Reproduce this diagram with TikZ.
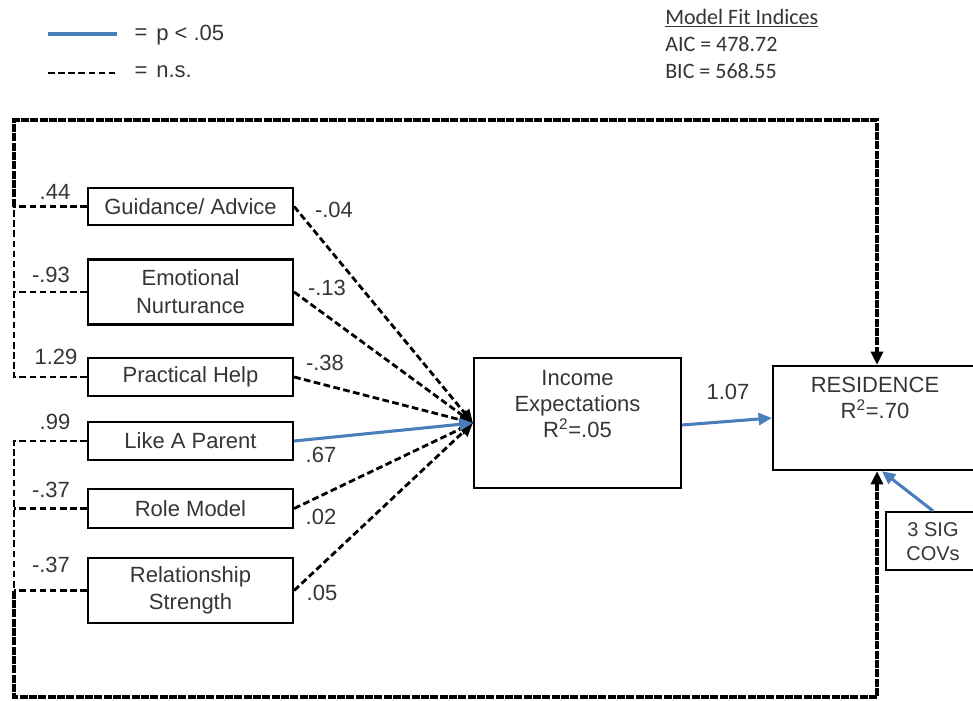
\documentclass[tikz,border=0pt]{standalone}
\usepackage{fontspec}
\setmainfont{Liberation Sans}
\newfontfamily\fitfont{Carlito}
\usetikzlibrary{arrows.meta}
\definecolor{sigblue}{HTML}{4A7EBB}
\definecolor{ink}{HTML}{353535}
\begin{document}
\begin{tikzpicture}[x=0.75pt,y=-0.75pt,
  every node/.style={text=ink, font=\fontsize{16.5}{20}\selectfont, inner sep=0pt},
  box/.style={draw=black, line width=1.7pt, minimum width=153.75pt, align=center},
  nsline/.style={draw=black, line width=2.1pt, dash pattern=on 5pt off 2.6pt},
  frame/.style={draw=black, line width=3pt, dash pattern=on 6pt off 1pt},
  sigline/.style={draw=sigblue, line width=2.3pt},
  tip/.style={-{Triangle[length=10pt,width=9pt]}}
]
\clip (0,0) rectangle (973,700);
\useasboundingbox (0,0) rectangle (973,700);

% legend
\coordinate (lg1a) at (48,34);  \coordinate (lg1b) at (117,34);
\coordinate (lg2a) at (48,73);  \coordinate (lg2b) at (117,73);
\draw[sigline, line width=2.6pt] (lg1a) -- (lg1b);
\draw[nsline] (lg2a) -- (lg2b);
\node (eq1) at (141,34) {=};
\node[anchor=west] (sigtxt) at (156,35) {p < .05};
\node (eq2) at (141,72) {=};
\node[anchor=west] (nstxt) at (156,72) {n.s.};

% fit indices
\node[anchor=base west, font=\fitfont\fontsize{16.5}{20}\selectfont] (fit) at (665,24) {\underline{Model Fit Indices}};
\node[anchor=base west, font=\fitfont\fontsize{16.5}{20}\selectfont] (aic) at (665,51) {AIC = 478.72};
\node[anchor=base west, font=\fitfont\fontsize{16.5}{20}\selectfont] (bic) at (665,78) {BIC = 568.55};

% predictor boxes
\node[box, minimum height=27.75pt] (guid) at (190.5,206.5) {Guidance/ Advice};
\node[box, minimum height=48.75pt, font=\fontsize{16.5}{21}\selectfont] (emot) at (190.5,292) {Emotional\\Nurturance};
\node[box, minimum height=28.5pt] (prac) at (190.5,377) {Practical Help};
\node[box, minimum height=28.5pt] (like) at (190.5,441) {Like A Parent};
\node[box, minimum height=29.25pt] (role) at (190.5,508.5) {Role Model};
\node[box, minimum height=48.75pt, font=\fontsize{16.5}{20.5}\selectfont] (rel) at (190.5,590.5) {Relationship\\Strength};

% mediator and outcome
\node[box, minimum width=155.25pt, minimum height=97.5pt] (inc) at (577.5,423) {};
\node[align=center, font=\fontsize{16.5}{19.5}\selectfont] (inctxt) at (577.5,404) {Income\\Expectations\\R\textsuperscript{2}=.05};
\node[box, minimum width=170.25pt, minimum height=78pt] (res) at (886.5,418) {};
\node[align=center, font=\fontsize{16.5}{19.5}\selectfont] (restxt) at (875,398) {RESIDENCE\\R\textsuperscript{2}=.70};
\node[box, minimum width=85.5pt, minimum height=43.5pt] (cov) at (943,541) {};
\node[align=center, font=\fontsize{15}{17.5}\selectfont] (covtxt) at (933,541.5) {3 SIG\\COVs};

% outer frame corners
\coordinate (tl) at (14,120);
\coordinate (tr) at (877,120);
\coordinate (bl) at (14,697);
\coordinate (br) at (877,697);

% upper predictors tied to the top of the frame
\draw[nsline] (guid.west) -- (guid.west -| tl);
\draw[nsline] (emot.west) -- (emot.west -| tl);
\draw[nsline] (prac.west) -- (prac.west -| tl) -- (guid.west -| tl);
\draw[frame, tip] (guid.west -| tl) -- (tl) -- (tr) -- (res.north -| tr);

% lower predictors tied to the bottom of the frame
\draw[nsline] (like.west) -- (like.west -| bl) -- (rel.west -| bl);
\draw[nsline] (role.west) -- (role.west -| bl);
\draw[nsline] (rel.west) -- (rel.west -| bl);
\draw[frame, tip] (rel.west -| bl) -- (bl) -- (br) -- (res.south -| br);

% paths into income expectations
\draw[nsline, tip] (guid.east) -- (inc.west);
\draw[nsline, tip] (emot.east) -- (inc.west);
\draw[nsline, tip] (prac.east) -- (inc.west);
\draw[nsline, tip] (role.east) -- (inc.west);
\draw[nsline, tip] (rel.east) -- (inc.west);
\draw[sigline, tip] (like.east) -- (inc.west);

% significant paths into residence
\draw[sigline, tip] ([yshift=-1.5pt]inc.east) -- (res.west);
\draw[sigline, tip] ([xshift=-7.5pt]cov.north) -- ([xshift=-3.5pt]res.south);

% coefficients
\node (c1) at (55,192) {.44};
\node (c2) at (51,275) {-.93};
\node (c3) at (56,357) {1.29};
\node (c4) at (55,422) {.99};
\node (c5) at (51,490) {-.37};
\node (c6) at (51,565) {-.37};
\node (d1) at (334,210) {-.04};
\node (d2) at (327,288) {-.13};
\node (d3) at (325,363) {-.38};
\node (d4) at (321,455) {.67};
\node (d5) at (321,517) {.02};
\node (d6) at (322,593) {.05};
\node (e1) at (728,392) {1.07};
\end{tikzpicture}
\end{document}
